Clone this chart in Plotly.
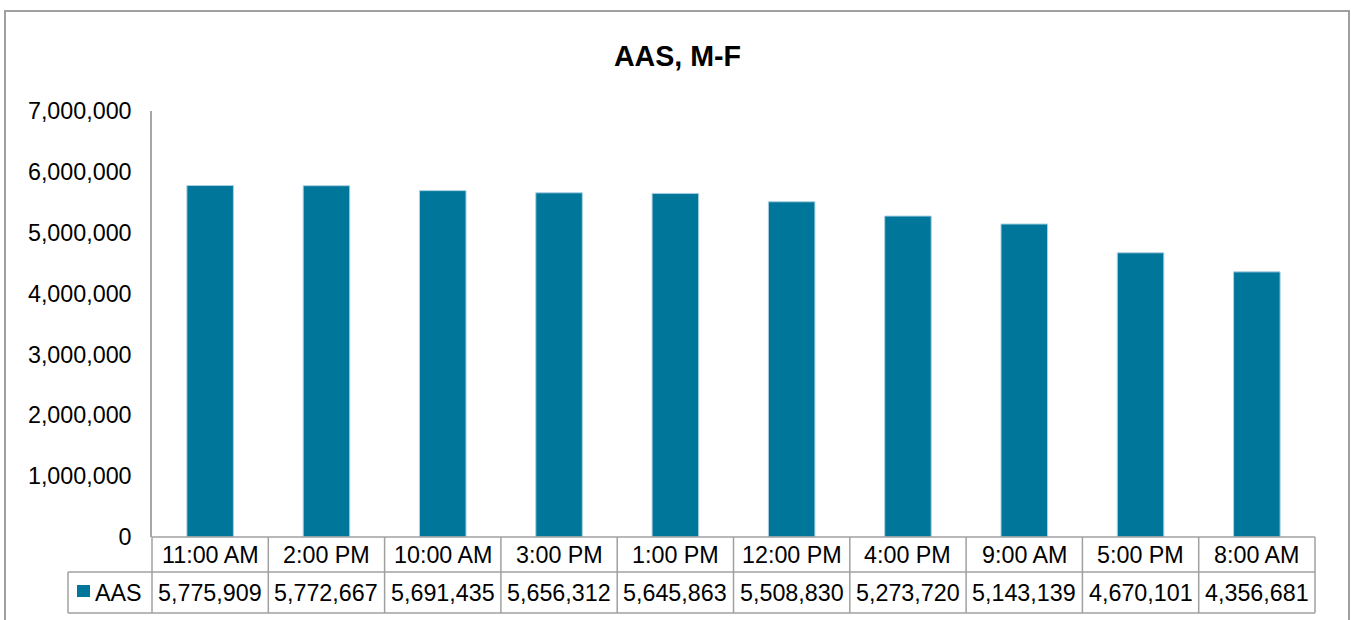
import plotly.graph_objects as go

categories = ["11:00 AM", "2:00 PM", "10:00 AM", "3:00 PM", "1:00 PM",
              "12:00 PM", "4:00 PM", "9:00 AM", "5:00 PM", "8:00 AM"]
aas_values = [5775909, 5772667, 5691435, 5656312, 5645863,
              5508830, 5273720, 5143139, 4670101, 4356681]
series_name = "AAS"
title_text = "AAS, M-F"
y_tick_values = [0, 1000000, 2000000, 3000000, 4000000, 5000000, 6000000, 7000000]

W, H = 1351, 620
L, R, T, B = 152, 36, 111, 83
PW = W - L - R
PH = H - T - B

BAR = "#00769B"
GRID = "#a0a0a0"
FONT = "Liberation Sans, Arial, sans-serif"
FS = 23.3


def xp(px):
    return (px - L) / PW


def yp(py):
    return 1 - (py - T) / PH


fig = go.Figure()
fig.add_trace(go.Bar(
    x=categories, y=aas_values, name=series_name,
    marker=dict(color=BAR, line=dict(color="#a9d0e2", width=1)),
    width=0.4, showlegend=False, hoverinfo="x+y",
))

shapes = []
# outer chart border
shapes.append(dict(type="rect", xref="paper", yref="paper",
                   x0=xp(5), x1=xp(1349), y0=yp(640), y1=yp(11),
                   line=dict(color=GRID, width=2), layer="below"))
# data table lines
row_top, row_mid, row_bot = 537, 572, 613
left_leg = 68
shapes.append(dict(type="line", xref="paper", yref="paper", x0=0, x1=1,
                   y0=yp(row_top), y1=yp(row_top), line=dict(color=GRID, width=1.5)))
shapes.append(dict(type="line", xref="paper", yref="paper", x0=xp(left_leg), x1=1,
                   y0=yp(row_mid), y1=yp(row_mid), line=dict(color=GRID, width=1.5)))
shapes.append(dict(type="line", xref="paper", yref="paper", x0=xp(left_leg), x1=1,
                   y0=yp(row_bot), y1=yp(row_bot), line=dict(color=GRID, width=1.5)))
shapes.append(dict(type="line", xref="paper", yref="paper", x0=xp(left_leg), x1=xp(left_leg),
                   y0=yp(row_mid), y1=yp(row_bot), line=dict(color=GRID, width=1.5)))
n = len(categories)
for i in range(n + 1):
    shapes.append(dict(type="line", xref="paper", yref="paper", x0=i / n, x1=i / n,
                       y0=yp(row_top), y1=yp(row_bot), line=dict(color=GRID, width=1.5)))
# legend key in table
shapes.append(dict(type="rect", xref="paper", yref="paper",
                   x0=xp(77), x1=xp(90), y0=yp(597), y1=yp(585),
                   line=dict(width=0), fillcolor=BAR))

annotations = []
annotations.append(dict(xref="paper", yref="paper", x=xp(93), y=yp((row_mid + row_bot) / 2),
                        text=series_name, showarrow=False, xanchor="left", yanchor="middle",
                        font=dict(family=FONT, size=FS, color="#000")))
for c, v in zip(categories, aas_values):
    annotations.append(dict(xref="x", yref="paper", x=c, y=yp((row_top + row_mid) / 2),
                            text=c, showarrow=False, xanchor="center", yanchor="middle",
                            font=dict(family=FONT, size=FS, color="#000")))
    annotations.append(dict(xref="x", yref="paper", x=c, y=yp((row_mid + row_bot) / 2),
                            text=f"{v:,}", showarrow=False, xanchor="center", yanchor="middle",
                            font=dict(family=FONT, size=FS, color="#000")))

fig.update_layout(
    width=W, height=H,
    margin=dict(l=L, r=R, t=T, b=B, autoexpand=False),
    paper_bgcolor="white", plot_bgcolor="white",
    title=dict(text="<b>" + title_text + "</b>", xref="paper", x=xp(677.5),
               yref="container", y=1 - 56 / H, xanchor="center", yanchor="middle",
               font=dict(family=FONT, size=28.6, color="#000")),
    xaxis=dict(showticklabels=False, ticks="", showgrid=False, showline=False,
               zeroline=False),
    yaxis=dict(range=[0, 7000000], tickvals=y_tick_values, tickformat=",d",
               showgrid=False, zeroline=False, showline=True, linecolor="#a6a6a6",
               linewidth=1.5, ticks="", ticklabelstandoff=14,
               tickfont=dict(family=FONT, size=FS, color="#000")),
    shapes=shapes, annotations=annotations,
    font=dict(family=FONT),
)

fig.write_html("out.html", config={"displayModeBar": False},
               post_script="document.body.style.margin='0';")
